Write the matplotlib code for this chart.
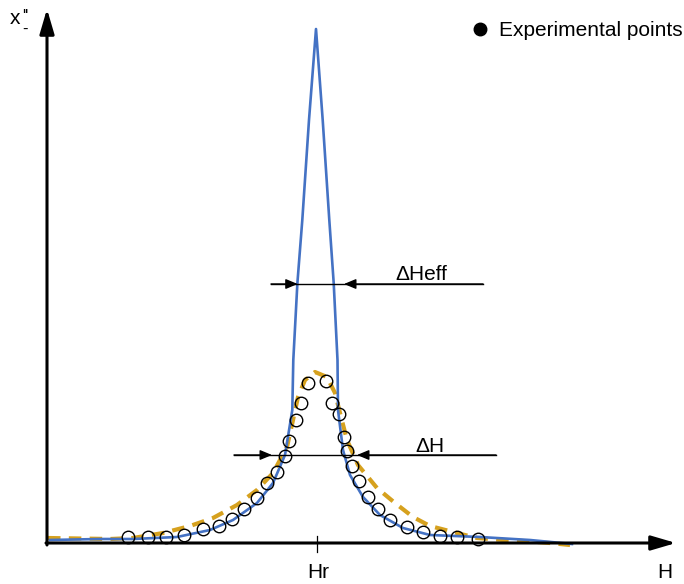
import matplotlib
matplotlib.use("Agg")
import numpy as np
from matplotlib import pyplot as plt
from matplotlib.lines import Line2D

plt.rcParams['font.family'] = ['Liberation Sans', 'DejaVu Sans']

# schematic resonance curves (H in arbitrary units, chi'' above the H axis)
BLUE_H = [50, 100, 133, 177, 210, 233, 257, 273, 285, 292.3, 293.3, 297.4, 302.3, 309, 316,
          322.7, 329.3, 333.7, 337.5, 338, 343, 350, 363, 380, 403, 430, 480, 530, 572]
BLUE_CHI = [3, 4, 4, 6, 13, 23, 40, 60, 88, 133, 183, 260, 323, 423, 514,
            423, 323, 260, 183, 133, 93, 68, 46, 28, 15, 8, 6, 3, -1]

GOLD_H = [48, 110, 133, 163, 190, 213, 237, 257, 273, 287, 293, 298, 305, 315, 327,
          335, 340, 347, 358, 377, 395, 413, 430, 457, 477, 503, 523, 550, 570]
GOLD_CHI = [5, 4, 5, 10, 17, 25, 38, 53, 70, 96, 123, 146, 163, 171, 166,
            150, 130, 103, 78, 55, 40, 26, 17, 10, 5, 3, 2, 0, -2]

EXP_H = [127.7, 147.7, 165.7, 184.3, 202.7, 218.7, 232, 244.3, 256.7, 266.7, 276.7, 285.3,
         289.3, 296, 301, 307.7, 325.7, 332.3, 339.3, 344.3, 347, 351.7, 359.3, 368.3,
         378.3, 390, 406.7, 422.7, 440, 456.7, 478.3]
EXP_CHI = [6, 6, 6, 8, 14, 17, 24, 34, 45, 60, 71, 87,
           102, 123, 140, 160, 162, 140, 129, 106, 92, 77, 62, 46,
           34, 23, 16, 11, 7, 6, 4]

HR = 317

fig = plt.figure(figsize=(6.84, 5.84), dpi=100)
ax = fig.add_axes([0, 0, 1, 1])
ax.set_xlim(0, 684)
ax.set_ylim(-41, 543)
ax.axis('off')

ax.plot(BLUE_H, BLUE_CHI, color='#4472C4', lw=1.9, solid_joinstyle='round', zorder=3)
ax.plot(GOLD_H, GOLD_CHI, color='#D6A11E', lw=3, dashes=(3, 2), dash_capstyle='butt', zorder=2)
ax.plot(EXP_H, EXP_CHI, 'o', ms=9, mfc='none', mec='black', mew=1.0, zorder=4)

# axes with arrow heads
axis_arrow = dict(arrowstyle='-|>,head_length=0.75,head_width=0.22', color='black', lw=2.2,
                  shrinkA=0, shrinkB=0, mutation_scale=20)
ax.annotate('', xy=(47, 534), xytext=(47, -2), arrowprops=axis_arrow, zorder=5)
ax.annotate('', xy=(676, 0), xytext=(46, 0), arrowprops=axis_arrow, zorder=5)
ax.plot([HR, HR], [-9, 7], color='black', lw=0.9, zorder=5)

ax.text(HR + 1, -29, 'Hr', ha='center', va='center', fontsize=15)
ax.text(665, -29, 'H', ha='center', va='center', fontsize=15)
ax.text(10, 524, 'x', ha='left', va='center', fontsize=15)
ax.text(22.5, 534, "''\n-", ha='left', va='top', fontsize=12, linespacing=0.8)

# width markers
small_arrow = dict(arrowstyle='-|>,head_length=0.6,head_width=0.25', color='black', lw=1.0,
                   shrinkA=0, shrinkB=0, mutation_scale=12)
ax.plot([271, 483], [259, 259], color='black', lw=1.0, zorder=5)
ax.annotate('', xy=(297.7, 259), xytext=(271, 259), arrowprops=small_arrow, zorder=5)
ax.annotate('', xy=(344, 259), xytext=(483, 259), arrowprops=small_arrow, zorder=5)
ax.text(421.5, 268, '\u0394Heff', ha='center', va='center', fontsize=15)

ax.plot([234, 496], [88, 88], color='black', lw=1.0, zorder=5)
ax.annotate('', xy=(272, 88), xytext=(234, 88), arrowprops=small_arrow, zorder=5)
ax.annotate('', xy=(357, 88), xytext=(496, 88), arrowprops=small_arrow, zorder=5)
ax.text(430, 96, '\u0394H', ha='center', va='center', fontsize=15)

handle = Line2D([], [], marker='o', color='black', ls='none', ms=9)
ax.legend([handle], ['Experimental points'], loc='center right', frameon=False, fontsize=15,
          handlelength=1.0, handletextpad=0.45, borderpad=0, borderaxespad=0,
          bbox_to_anchor=(683 / 684, 1 - 31 / 584))

fig.savefig('out.png', dpi=100)
